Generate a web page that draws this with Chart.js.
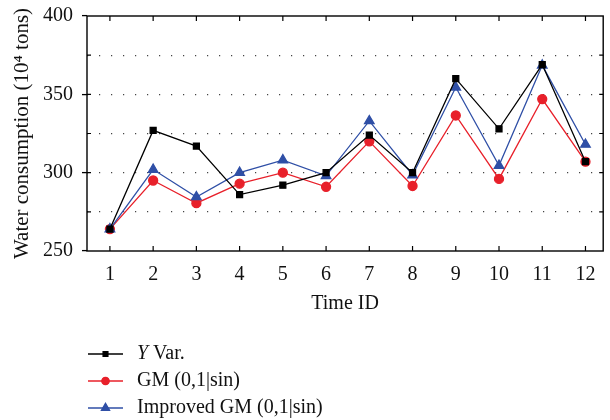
<!DOCTYPE html>
<html>
<head>
<meta charset="utf-8">
<script src="https://cdn.jsdelivr.net/npm/chart.js@4"></script>
<style>
  html, body { margin: 0; padding: 0; background: #fff; }
  #wrap { width: 610px; height: 420px; }
</style>
</head>
<body>
<div id="wrap"><canvas id="myChart" width="610" height="420"></canvas></div>
<script>
var timeIds = [1, 2, 3, 4, 5, 6, 7, 8, 9, 10, 11, 12];
var yVar = [264, 327, 317, 286, 292, 300, 324, 300, 360, 328, 369, 307];
var gmSin = [264, 295, 280.5, 293, 300, 291, 320, 291.5, 336.5, 296, 347, 307];
var improvedGm = [264, 302, 284.5, 300, 308, 298, 333, 298.5, 354.5, 304.5, 368.5, 318];

const FONT = "'Liberation Serif', 'Times New Roman', serif";

function toPoints(values) {
    return timeIds.map((t, i) => ({ x: t, y: values[i] }));
}

const data = {
    datasets: [{
        label: 'Y Var.',
        data: toPoints(yVar),
        borderColor: '#000000',
        backgroundColor: '#000000',
        pointStyle: 'rect',
        pointRadius: 4.2,
        borderWidth: 1.3,
        order: 1
    },
    {
        label: 'GM (0,1|sin)',
        data: toPoints(gmSin),
        borderColor: '#e8202a',
        backgroundColor: '#e8202a',
        pointStyle: 'circle',
        pointRadius: 4.5,
        borderWidth: 1.3,
        order: 3
    },
    {
        label: 'Improved GM (0,1|sin)',
        data: toPoints(improvedGm),
        borderColor: '#2f4fa6',
        backgroundColor: '#2f4fa6',
        pointStyle: 'triangle',
        pointRadius: 5.5,
        borderWidth: 1.3,
        order: 2
    }]
};

// box + inward ticks on all four sides
const frameTicks = {
    id: 'frameTicks',
    afterDatasetsDraw(chart) {
        const c = chart.ctx;
        const a = chart.chartArea;
        const xs = chart.scales.x;
        const ys = chart.scales.y;
        c.save();
        c.strokeStyle = '#000';
        c.lineWidth = 1.4;
        c.strokeRect(a.left, a.top, a.right - a.left, a.bottom - a.top);
        c.lineWidth = 1.2;
        c.beginPath();
        timeIds.forEach(t => {
            const px = xs.getPixelForValue(t);
            c.moveTo(px, a.bottom); c.lineTo(px, a.bottom - 5);
            c.moveTo(px, a.top); c.lineTo(px, a.top + 5);
        });
        for (let v = 275; v < 400; v += 25) {
            const py = ys.getPixelForValue(v);
            c.moveTo(a.left, py); c.lineTo(a.left + 4, py);
            c.moveTo(a.right, py); c.lineTo(a.right - 4, py);
        }
        c.stroke();
        c.restore();
    }
};

// legend: line + marker + text, one entry per row
const lineLegend = {
    id: 'lineLegend',
    afterDraw(chart) {
        const c = chart.ctx;
        const rows = [354, 381, 408];
        c.save();
        chart.data.datasets.forEach((ds, i) => {
            const y = rows[i];
            c.strokeStyle = ds.borderColor;
            c.fillStyle = ds.backgroundColor;
            c.lineWidth = 1.3;
            c.beginPath();
            c.moveTo(88, y);
            c.lineTo(123, y);
            c.stroke();
            Chart.helpers.drawPoint(c, {
                pointStyle: ds.pointStyle,
                radius: ds.pointRadius - 0.8,
                rotation: 0,
                borderWidth: 1
            }, 105.5, y);
            c.fillStyle = '#111';
            c.textBaseline = 'middle';
            c.textAlign = 'left';
            let x = 137;
            if (i === 0) {
                c.font = 'italic 20px ' + FONT;
                c.fillText('Y', x, y);
                x += c.measureText('Y').width;
                c.font = '20px ' + FONT;
                c.fillText(' Var.', x, y);
            } else {
                c.font = '20px ' + FONT;
                c.fillText(ds.label, x, y);
            }
        });
        c.restore();
    }
};

const scales = {
    x: {
        type: 'linear',
        min: 0.47,
        max: 12.41,
        afterBuildTicks: (axis) => {
            axis.ticks = timeIds.map(v => ({ value: v }));
        },
        afterFit: (axis) => {
            axis.height = 65;
            axis.paddingLeft = 0;
            axis.paddingRight = 0;
        },
        border: { display: false },
        grid: { display: false, drawTicks: false },
        ticks: {
            padding: 12,
            color: '#111',
            font: { family: FONT, size: 20 },
            maxRotation: 0,
            autoSkip: false
        },
        title: {
            display: true,
            text: 'Time ID',
            color: '#111',
            font: { family: FONT, size: 20 },
            padding: { top: 6, bottom: 0 }
        }
    },
    y: {
        min: 250,
        max: 400,
        afterFit: (axis) => {
            axis.width = 87;
            axis.paddingTop = 0;
            axis.paddingBottom = 0;
        },
        border: { display: false, dash: [1.2, 10.8] },
        grid: {
            color: (ctx) => (ctx.tick && (ctx.tick.value === 250 || ctx.tick.value === 400)) ? 'rgba(0,0,0,0)' : '#444',
            lineWidth: 1.2,
            tickLength: 5,
            tickColor: (ctx) => (ctx.tick && ctx.tick.value % 50 === 0) ? '#000' : 'rgba(0,0,0,0)',
            tickBorderDash: [],
            tickWidth: 1.3
        },
        ticks: {
            stepSize: 25,
            padding: 9,
            color: '#111',
            font: { family: FONT, size: 20 },
            callback: function (value) {
                return value % 50 === 0 ? value : '';
            }
        },
        title: {
            display: true,
            text: 'Water consumption (10\u2074 tons)',
            color: '#111',
            font: { family: FONT, size: 21 },
            padding: { top: 10, bottom: 0 }
        }
    }
};

const options = {
    responsive: false,
    animation: false,
    devicePixelRatio: 1,
    layout: { padding: { top: 16, right: -2, bottom: 104, left: 0 } },
    scales: scales,
    plugins: {
        legend: { display: false },
        tooltip: { enabled: false }
    }
};

var myChart = new Chart(document.getElementById('myChart').getContext('2d'), {
    type: 'line',
    data: data,
    options: options,
    plugins: [frameTicks, lineLegend]
});
</script>
</body>
</html>
